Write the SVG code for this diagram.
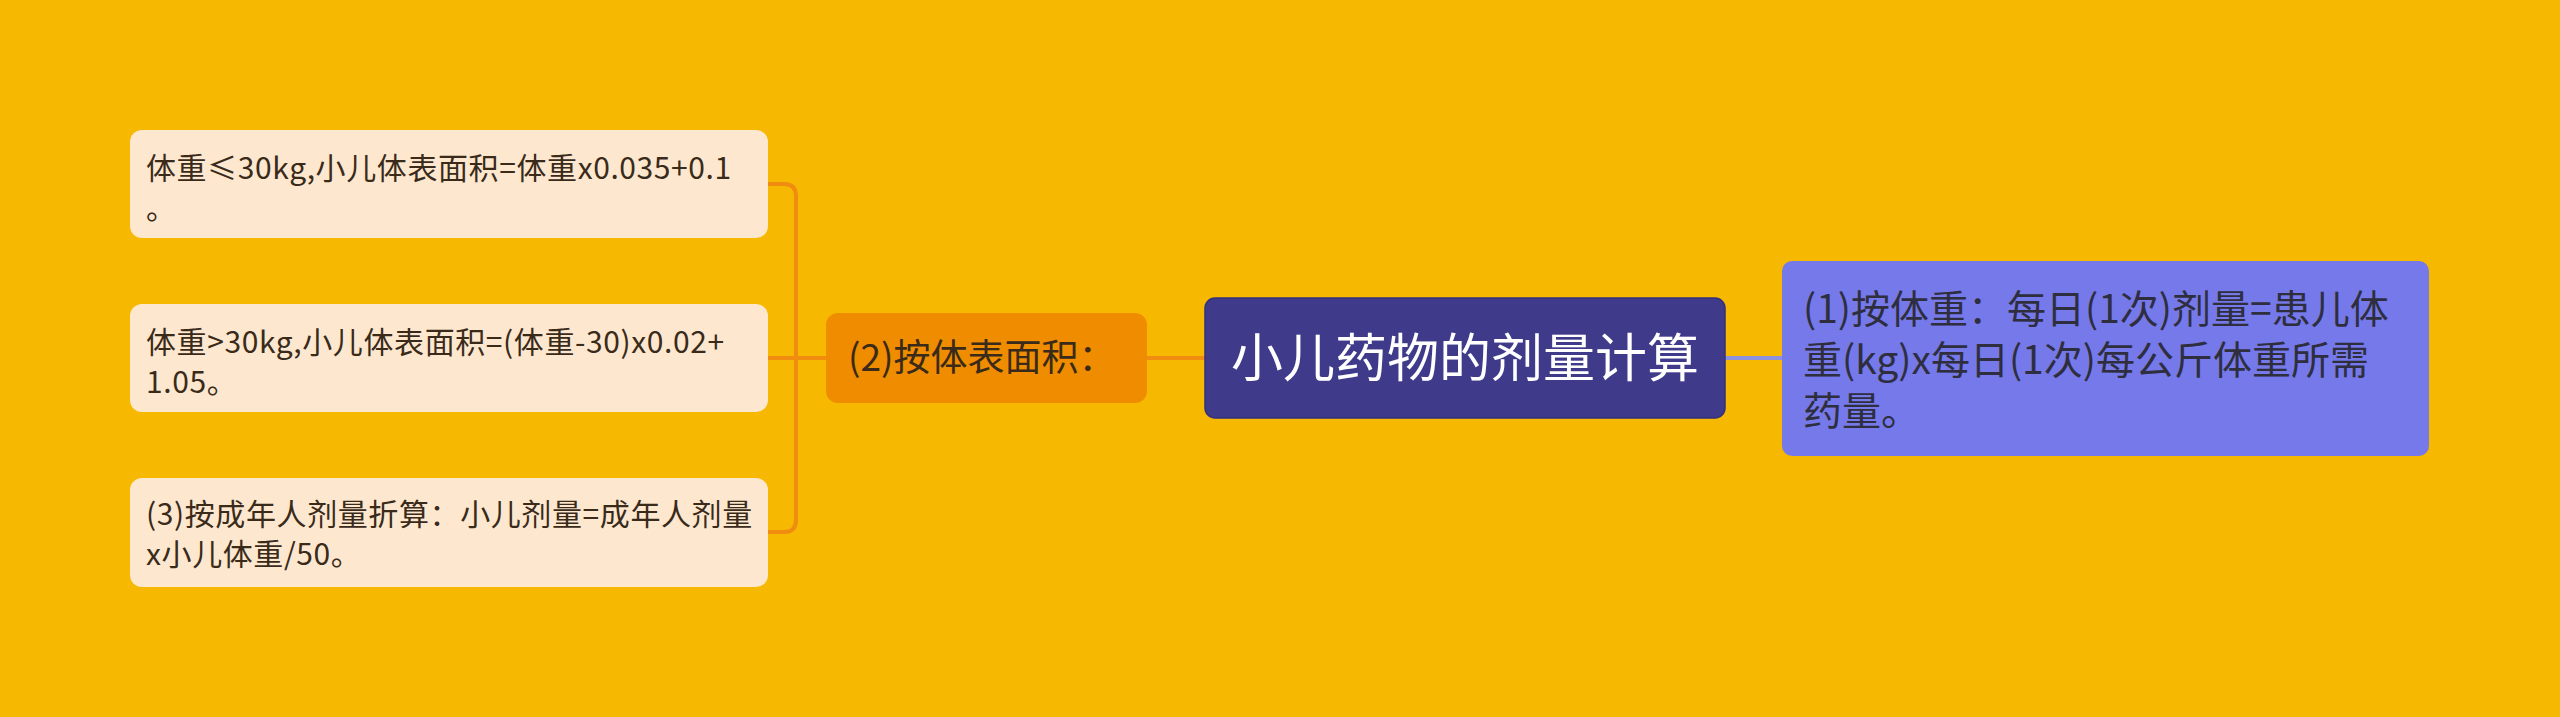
<svg xmlns="http://www.w3.org/2000/svg" width="2560" height="717" viewBox="0 0 2560 717">
<style>
.leaf rect{fill:#FDE8CF;}
.leaf text{font-family:"Noto Sans CJK SC","Noto Sans",sans-serif;font-size:30px;letter-spacing:0.6px;fill:#3A2A1A;}
.con{fill:none;stroke-width:4;stroke-linecap:round;}
.org{stroke:#F08C10;}
.pur{stroke:#8E91DE;}
</style>
<rect x="0" y="0" width="2560" height="717" fill="#F6B800"/>
<g id="connectors">
<path class="con org" d="M768,184 H784 Q796,184 796,196 V520 Q796,532 784,532 H768"/>
<path class="con org" d="M768,358 H826"/>
<path class="con org" d="M1147,358 H1205"/>
<path class="con pur" d="M1725,358 H1782"/>
</g>
<g id="leaf1" class="leaf">
<rect x="130" y="130" width="638" height="108" rx="12"/>
<text x="146" y="178.5">体重≤30kg,小儿体表面积=体重x0.035+0.1<tspan x="146" y="219">。</tspan></text>
</g>
<g id="leaf2" class="leaf">
<rect x="130" y="304" width="638" height="108" rx="12"/>
<text x="146" y="352.5">体重&gt;30kg,小儿体表面积=(体重-30)x0.02+<tspan x="146" y="393">1.05。</tspan></text>
</g>
<g id="leaf3" class="leaf">
<rect x="130" y="478" width="638" height="109" rx="12"/>
<text x="146" y="524.5">(3)按成年人剂量折算：小儿剂量=成年人剂量<tspan x="146" y="565">x小儿体重/50。</tspan></text>
</g>
<g id="sub2">
<rect x="826" y="313" width="321" height="90" rx="12" fill="#F08C00"/>
<text x="848" y="371" font-family="Noto Sans CJK SC,Noto Sans,sans-serif" font-size="37" fill="#3A2A1A">(2)按体表面积：</text>
</g>
<g id="root">
<rect x="1205" y="298" width="520" height="120" rx="10" fill="#3F3A8A" stroke="#35307A" stroke-width="1.5"/>
<text x="1465" y="377" text-anchor="middle" font-family="Noto Sans CJK SC,Noto Sans,sans-serif" font-size="52" fill="#FFFFFF">小儿药物的剂量计算</text>
</g>
<g id="sub1">
<rect x="1782" y="261" width="647" height="195" rx="10" fill="#7579EA"/>
<text x="1803" y="323" font-family="Noto Sans CJK SC,Noto Sans,sans-serif" font-size="39" fill="#2E2E3E">(1)按体重：每日(1次)剂量=患儿体<tspan x="1803" y="374">重(kg)x每日(1次)每公斤体重所需</tspan><tspan x="1803" y="425">药量。</tspan></text>
</g>
</svg>
